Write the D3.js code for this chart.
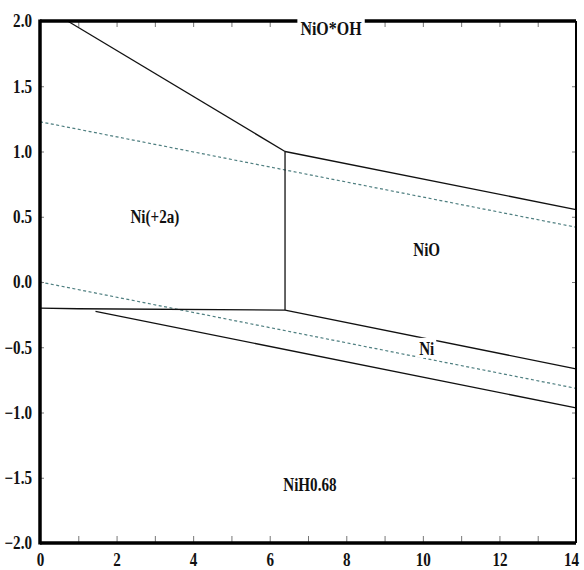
<!DOCTYPE html>
<html>
<head>
<meta charset="utf-8">
<script src="https://cdn.jsdelivr.net/npm/d3@7/dist/d3.min.js"></script>
<style>
  html, body { margin: 0; padding: 0; background: #fff; }
  svg { display: block; }
</style>
</head>
<body>
<svg id="chart" width="584" height="570"></svg>
<script>
// ---- data (pH, E in volts) ----
const phTicks = [0,1,2,3,4,5,6,7,8,9,10,11,12,13,14];
const phLabels = [0,2,4,6,8,10,12,14];
const eTicks = [-2.0,-1.5,-1.0,-0.5,0.0,0.5,1.0,1.5,2.0];

const niOOH_Ni2 = [[0.72, 2.0], [6.4, 1.0]];
const ni2_NiO   = [[6.4, 1.0], [6.4, -0.215]];
const niOOH_NiO = [[6.4, 1.0], [14, 0.555]];
const ni2_Ni    = [[0, -0.2], [1.0, -0.205], [6.4, -0.215]];
const niO_Ni    = [[6.4, -0.215], [14, -0.665]];
const ni_NiH    = [[1.45, -0.225], [14, -0.965]];
const waterO2   = [[0, 1.228], [14, 0.42]];
const waterH2   = [[0, 0.0], [14, -0.815]];

const regionLabels = ["Ni(+2a)", "NiO", "Ni", "NiH0.68"];
const regionPos = [[3.0, 0.50], [10.1, 0.25], [10.1, -0.51], [7.05, -1.55]];
const topLabel = "NiO*OH";
const topLabelPh = 7.6;

(function () {
const FONT = "Liberation Serif";
const SQ = 0.84;
// ---- layout ----
const svg = d3.select("#chart");
const L = 40, R = 576, T = 21, B = 543;
const x = d3.scaleLinear().domain([0, 14]).range([L, R]);
const y = d3.scaleLinear().domain([-2, 2]).range([B, T]);
const line = d3.line().x(d => x(d[0])).y(d => y(d[1]));

function styleText(sel, size) {
  sel.attr("font-family", FONT).attr("font-weight", "bold").attr("font-size", size).attr("fill", "#111");
}
function condense(sel, f) {
  sel.each(function() {
    const w = this.getComputedTextLength();
    if (w > 0) d3.select(this).attr("textLength", w * f).attr("lengthAdjust", "spacingAndGlyphs");
  });
}

// water lines
[waterO2, waterH2].forEach(d => {
  svg.append("path").datum(d).attr("d", line)
    .attr("fill", "none").attr("stroke", "#4f7f80").attr("stroke-width", 1.2)
    .attr("stroke-dasharray", "3,2.5");
});

// boundaries
[niOOH_Ni2, ni2_NiO, niOOH_NiO, ni2_Ni, niO_Ni, ni_NiH].forEach(d => {
  svg.append("path").datum(d).attr("d", line)
    .attr("fill", "none").attr("stroke", "#111").attr("stroke-width", 1.3);
});

// axes: ticks inward
const tickStyle = g => g.selectAll(".tick line").attr("stroke", "#777").attr("stroke-width", 1);
const gBottom = svg.append("g").attr("transform", `translate(0,${B})`)
  .call(d3.axisBottom(x).tickValues(phTicks).tickSizeInner(-7).tickSizeOuter(0).tickPadding(13)
    .tickFormat(d => phLabels.includes(d) ? d3.format("d")(d) : ""));
const gTop = svg.append("g").attr("transform", `translate(0,${T})`)
  .call(d3.axisTop(x).tickValues(phTicks).tickSizeInner(-6).tickSizeOuter(0).tickFormat(""));
const gLeft = svg.append("g").attr("transform", `translate(${L},0)`)
  .call(d3.axisLeft(y).tickValues(eTicks).tickSizeInner(-4).tickSizeOuter(0).tickPadding(8)
    .tickFormat(d3.format(".1f")));
const gRight = svg.append("g").attr("transform", `translate(${R},0)`)
  .call(d3.axisRight(y).tickValues(eTicks).tickSizeInner(-4).tickSizeOuter(0).tickFormat(""));
[gBottom, gTop, gLeft, gRight].forEach(g => {
  g.call(tickStyle); g.select(".domain").remove();
  g.attr("font-family", FONT).attr("font-size", 18).attr("font-weight", "bold");
});
[gBottom, gLeft].forEach(g => styleText(g.selectAll("text"), 18));
gLeft.selectAll("text").text(d => d3.format(".1f")(d));
condense(gBottom.selectAll("text"), SQ);
condense(gLeft.selectAll("text"), SQ);
gBottom.selectAll("text").attr("dy", "0.55em");
gBottom.selectAll(".tick").filter(d => d === 14).select("text").attr("x", -5);

// frame
svg.append("line").attr("x1", L).attr("x2", L).attr("y1", T - 1.5).attr("y2", B + 1.5).attr("stroke", "#000").attr("stroke-width", 3.5);
svg.append("line").attr("x1", L).attr("x2", R).attr("y1", B).attr("y2", B).attr("stroke", "#000").attr("stroke-width", 3.5);
svg.append("line").attr("x1", L).attr("x2", R).attr("y1", T).attr("y2", T).attr("stroke", "#000").attr("stroke-width", 3.5);
svg.append("line").attr("x1", R).attr("x2", R).attr("y1", T).attr("y2", B).attr("stroke", "#000").attr("stroke-width", 2);

// top label with white gap
const tlRect = svg.append("rect").attr("fill", "#fff");
const tl = svg.append("text").attr("x", x(topLabelPh)).attr("y", T + 14).attr("text-anchor", "middle").text(topLabel);
styleText(tl, 19);
condense(tl, SQ);
const tb = tl.node().getBBox();
tlRect.attr("x", tb.x - 3).attr("y", T - 3).attr("width", tb.width + 6).attr("height", 7);

// region labels
regionLabels.forEach((t, i) => {
  const p = regionPos[i];
  const rect = svg.append("rect").attr("fill", "#fff");
  const el = svg.append("text").attr("x", x(p[0])).attr("y", y(p[1])).attr("dy", "0.35em")
    .attr("text-anchor", "middle").text(t);
  styleText(el, 18);
  condense(el, SQ);
  if (t === "Ni") {
    const b = el.node().getBBox();
    rect.attr("x", b.x - 2).attr("y", b.y - 1).attr("width", b.width + 4).attr("height", b.height);
  } else {
    rect.remove();
  }
});
})();
</script>
</body>
</html>
